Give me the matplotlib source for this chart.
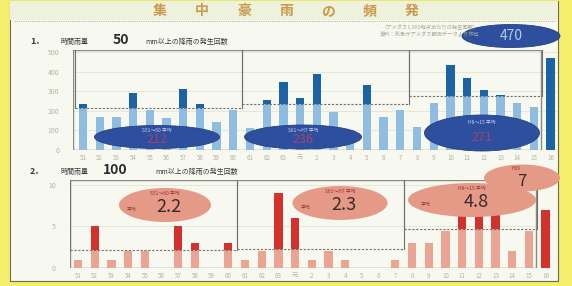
import matplotlib
matplotlib.use('Agg')
import matplotlib.pyplot as plt
from matplotlib.patches import Ellipse, Rectangle
import numpy as np

plt.rcParams['font.family'] = ['Noto Sans CJK JP', 'DejaVu Sans']

# data (years Showa 51 .. Heisei 16)
years = ['51', '52', '53', '54', '55', '56', '57', '58', '59', '60',
         '61', '62', '63', '元', '2', '3', '4', '5', '6', '7',
         '8', '9', '10', '11', '12', '13', '14', '15', '16']
rain50 = [235, 168, 168, 290, 204, 163, 311, 237, 143, 204,
          110, 255, 347, 265, 388, 194, 100, 332, 168, 204,
          117, 240, 434, 367, 306, 281, 240, 219,
          470]
rain100 = [1, 5, 1, 2, 2, 0, 5, 3, 0, 3,
           1, 2, 9, 6, 1, 2, 1, 0, 0, 1,
           3, 3, 4.5, 7, 7, 7, 2, 4.5,
           7]
periods = [(0, 10), (10, 20), (20, 28)]
period_names = ['S51〜60 平均', 'S61〜H7 平均', 'H8〜15 平均']
avg50_text = ['212', '236', '271']
avg100_text = ['2.2', '2.3', '4.8']
last_name = 'H16'
last50_text = '470'
last100_text = '7'
title_chars = ['集', '中', '豪', '雨', 'の', '頻', '発']

W, H = 572, 286
fig = plt.figure(figsize=(W / 100, H / 100), dpi=100)
fig.patch.set_facecolor('#f4ee6c')


def px_axes(x0, y0, x1, y1, **kw):
    return fig.add_axes([x0 / W, 1 - y1 / H, (x1 - x0) / W, (y1 - y0) / H], **kw)


# background sheet
bg = px_axes(0, 0, W, H)
bg.set_xlim(0, W)
bg.set_ylim(H, 0)
bg.axis('off')
bg.add_patch(Rectangle((10, 1), 548, 280, facecolor='#f7f8ef', edgecolor='#6a6a5a', lw=0.8))
bg.add_patch(Rectangle((10, 1), 548, 19, facecolor='#eef1dc', edgecolor='none'))
bg.plot([14, 555], [21, 21], color='#b8bca0', lw=0.8, ls=(0, (1, 1)))


def draw_panel(ax, vals, avgs, light, dark, ymax, yticks, first_px, left_px):
    ax.set_facecolor('none')
    x = np.arange(len(vals))
    vals = np.array(vals, dtype=float)
    ax.set_xlim(-0.6 if left_px is None else left_px, 28.45)
    ax.set_ylim(0, ymax)
    for s in ax.spines.values():
        s.set_visible(False)
    for t in yticks:
        ax.axhline(t, color='#e2e6d2', lw=0.6, zorder=0)
    ax.add_patch(Rectangle((ax.get_xlim()[0], 0), 27.45 - ax.get_xlim()[0], ymax,
                           facecolor='none', edgecolor='#8a8a80', lw=1.0, zorder=1))
    for (a, b), m in zip(periods, avgs):
        seg = vals[a:b]
        ax.bar(x[a:b], seg, width=0.5, color=light, zorder=2)
        up = np.clip(seg - m, 0, None)
        ax.bar(x[a:b], up, bottom=m, width=0.5, color=dark, zorder=3)
        ax.plot([a - 0.5, b - 0.5], [m, m], color='#707070', lw=0.8, ls=(0, (2, 1.5)), zorder=4)
        ax.plot([a - 0.5, a - 0.5], [m, ymax], color='#707070', lw=0.8, zorder=4)
        ax.plot([b - 0.5, b - 0.5], [m, ymax], color='#707070', lw=0.8, zorder=4)
    ax.bar(x[28:], vals[28:], width=0.5, color=dark, zorder=3, clip_on=False)
    ax.set_yticks(yticks)
    ax.set_yticklabels([str(t) for t in yticks], fontsize=5, color='#b4b6a4')
    ax.set_xticks(x)
    ax.set_xticklabels(years, fontsize=4.5, color='#b4b6a4')
    ax.tick_params(length=0, pad=3)
    ax.tick_params(axis='y', pad=10)


ax1 = px_axes(83 - 0.6 * 16.7, 50, 83 + 28.45 * 16.7, 150)
ax2 = px_axes(78 - 0.5 * 16.7, 180, 78 + 28.45 * 16.7, 268)
draw_panel(ax1, rain50, [np.mean(rain50[a:b]) for a, b in periods],
           '#8fbde2', '#1c63a6', 510, [0, 100, 200, 300, 400, 500], 83, -0.6)
draw_panel(ax2, rain100, [np.mean(rain100[a:b]) for a, b in periods],
           '#eaa493', '#d4302c', 10.6, [0, 5, 10], 78, -0.5)

# overlay: titles and ellipses
ov = px_axes(0, 0, W, H)
ov.set_xlim(0, W)
ov.set_ylim(H, 0)
ov.axis('off')
ov.patch.set_alpha(0)

for i, ch in enumerate(title_chars):
    ov.text(160 + i * 42, 11, ch, fontsize=10, fontweight='bold', color='#c99a4c',
            ha='center', va='center')
ov.text(430, 27, '（アメダス1,000地点あたりの発生回数）', fontsize=3.8, color='#a8aa98',
        ha='center', va='center')
ov.text(430, 34, '資料：気象庁アメダス観測データより作成', fontsize=3.8, color='#a8aa98',
        ha='center', va='center')

ov.text(30, 41, '1．', fontsize=6.5, color='#3a3a40', ha='left', va='center', fontweight='bold')
ov.text(60, 42, '時間雨量', fontsize=5, color='#3a3a40', ha='left', va='center')
ov.text(113, 40, '50', fontsize=10, color='#2a2a30', ha='left', va='center', fontweight='bold')
ov.text(145, 42, 'mm以上の降雨の発生回数', fontsize=5, color='#3a3a40', ha='left', va='center')

ov.text(30, 171, '2．', fontsize=6.5, color='#3a3a40', ha='left', va='center', fontweight='bold')
ov.text(60, 172, '時間雨量', fontsize=5, color='#3a3a40', ha='left', va='center')
ov.text(103, 170, '100', fontsize=10, color='#2a2a30', ha='left', va='center', fontweight='bold')
ov.text(155, 172, 'mm以上の降雨の発生回数', fontsize=5, color='#3a3a40', ha='left', va='center')

blue_e = [(157, 137, 125, 23), (303, 137, 117, 24), (482, 133, 115, 36)]
for (cx, cy, w, h), name, txt in zip(blue_e, period_names, avg50_text):
    ov.add_patch(Ellipse((cx, cy), w, h, facecolor='#2e4f9e', edgecolor='#24407f', lw=0.6))
    ov.text(cx, cy - h * 0.28, name, fontsize=3.5, color='#c8d4f0', ha='center', va='center')
    ov.text(cx, cy + h * 0.12, txt, fontsize=9, color='#a34272', ha='center', va='center')
ov.add_patch(Ellipse((511, 36), 98, 23, facecolor='#2e4f9e', edgecolor='#24407f', lw=0.6))
ov.text(511, 36, last50_text, fontsize=10, color='#b8c8ec', ha='center', va='center')

red_e = [(165, 205, 92, 34), (340, 203, 95, 34), (472, 200, 128, 34)]
ov.add_patch(Ellipse((522, 178), 76, 27, facecolor='#e59a88', edgecolor='none'))
ov.text(516, 168, last_name, fontsize=3.5, color='#9a3030', ha='center', va='center')
ov.text(522, 181, last100_text, fontsize=12, color='#3a2a2c', ha='center', va='center')
for (cx, cy, w, h), name, txt in zip(red_e, period_names, avg100_text):
    ov.add_patch(Ellipse((cx, cy), w, h, facecolor='#e59a88', edgecolor='none'))
    ov.text(cx, cy - h * 0.33, name, fontsize=3.5, color='#9a3030', ha='center', va='center')
    ov.text(cx + 4, cy + 2, txt, fontsize=13, color='#3a2a2c', ha='center', va='center')
    ov.text(cx - w * 0.36, cy + 4, '平均', fontsize=3.5, color='#9a3030', ha='center', va='center')

fig.savefig('out.png', dpi=100, facecolor=fig.get_facecolor())
